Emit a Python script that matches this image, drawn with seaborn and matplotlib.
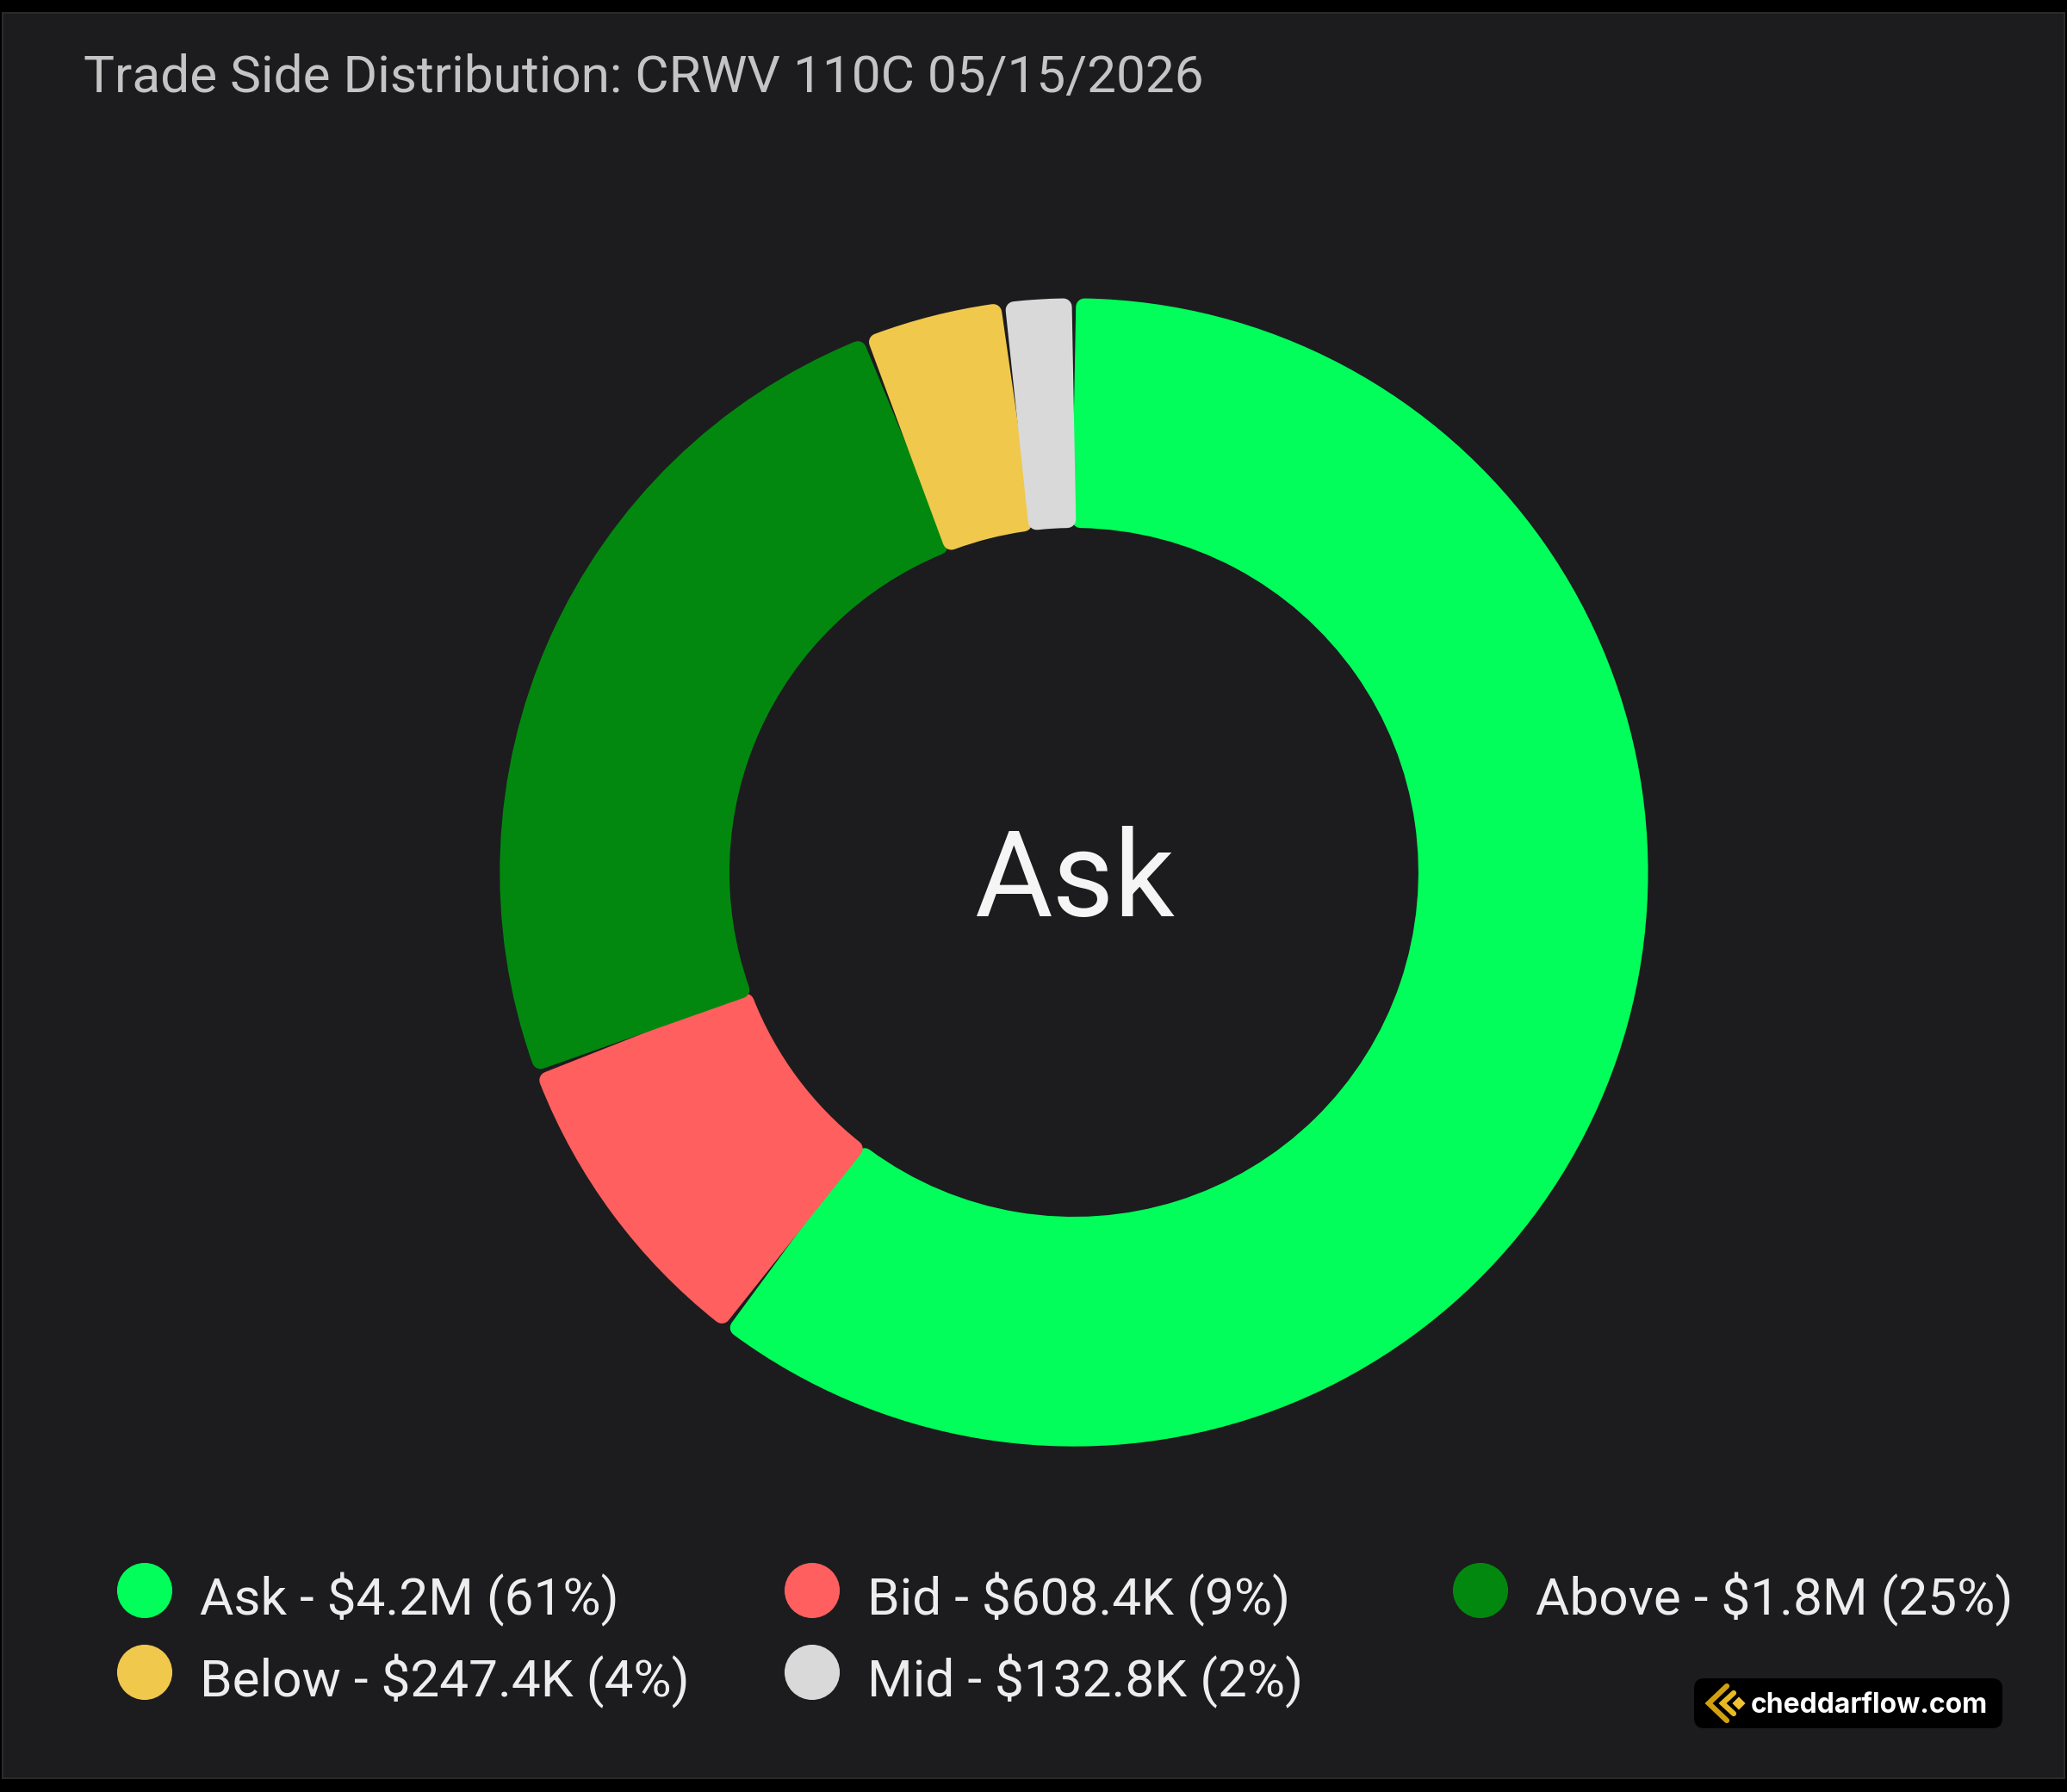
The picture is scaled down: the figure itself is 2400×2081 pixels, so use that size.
import matplotlib
matplotlib.use("Agg")
import matplotlib.pyplot as plt
import seaborn as sns
import numpy as np
from matplotlib.patches import Rectangle, FancyBboxPatch

# data
sides = ["Ask", "Bid", "Above", "Below", "Mid"]
amounts = ["$4.2M", "$608.4K", "$1.8M", "$247.4K", "$132.8K"]
shares = [61, 9, 25, 4, 2]
side_colors = ["#02fe5a", "#ff5f5e", "#03880f", "#f0c84c", "#d9d9d9"]
title = "Trade Side Distribution: CRWV 110C 05/15/2026"
center_label = "Ask"

BG = "#1c1c1e"

sns.set_theme(style="dark", rc={"axes.facecolor": BG, "figure.facecolor": "black"})
plt.rcParams["font.family"] = ["Roboto", "DejaVu Sans"]

W, H = 2400, 2081
fig = plt.figure(figsize=(W / 100, H / 100), dpi=100)

# pixel-space overlay for panel, title, legend and watermark
bg = fig.add_axes([0, 0, 1, 1])
bg.set_xlim(0, W)
bg.set_ylim(H, 0)
bg.axis("off")
bg.add_patch(Rectangle((3, 15), W - 6, 2050, facecolor=BG, edgecolor="#2a2a2c", lw=1.5))

bg.text(97, 107, title, fontsize=43.5, color="#c4c4c4", ha="left", va="baseline")

# donut with rounded segment corners (own-colour round-joined stroke)
ax = fig.add_axes([0.2279, 0.1768, 0.5833, 0.6728])
px_per_unit = 1400 / 2.1
r = 0.015                       # corner radius in data units
lw_pt = 2 * r * px_per_unit * 72 / 100
wedges, _ = ax.pie(shares, colors=side_colors, startangle=90, counterclock=False,
                   radius=1.0 - r, wedgeprops=dict(width=0.4 - 2 * r, linewidth=lw_pt))
d = np.degrees(r / 0.8)
for w, c in zip(wedges, side_colors):
    w.set_edgecolor(c)
    w.set_joinstyle("round")
    w.set_theta1(w.theta1 + d)
    w.set_theta2(w.theta2 - d)
ax.set_xlim(-1.05, 1.05)
ax.set_ylim(-1.05, 1.05)
ax.text(0, -0.077, center_label, fontsize=100, color="#f5f5f5",
        ha="center", va="baseline")

# legend, laid out in a 3-column grid
col_x = [168, 943, 1719]
row_y = [1847, 1942]
for i, (side, amt, pct, c) in enumerate(zip(sides, amounts, shares, side_colors)):
    cx = col_x[i % 3]
    cy = row_y[i // 3]
    bg.scatter([cx], [cy], s=64 ** 2 * 0.52, color=c, edgecolor="none")
    bg.text(cx + 64, cy + 28, f"{side} - {amt} ({pct}%)", fontsize=43.5,
            color="#ededed", ha="left", va="baseline")

# watermark
bg.add_patch(FancyBboxPatch((1967, 1949), 358, 58, boxstyle="round,pad=0,rounding_size=12",
                            facecolor="black", edgecolor="none"))
bg.plot([2005, 1984, 2005], [1958, 1978, 1998], color="#d1a010", lw=4.5,
        solid_joinstyle="miter")
bg.plot([2013, 2000, 2013], [1966, 1978, 1990], color="#e8b923", lw=4.5,
        solid_joinstyle="miter")
bg.scatter([2019], [1978], marker="D", s=60, color="#f2c230", edgecolor="none")
bg.text(2033, 1989, "cheddarflow.com", fontsize=23, fontweight="bold",
        family=["Inter", "DejaVu Sans"], color="white", ha="left", va="baseline")

fig.savefig("out.png", dpi=100, facecolor="black")
